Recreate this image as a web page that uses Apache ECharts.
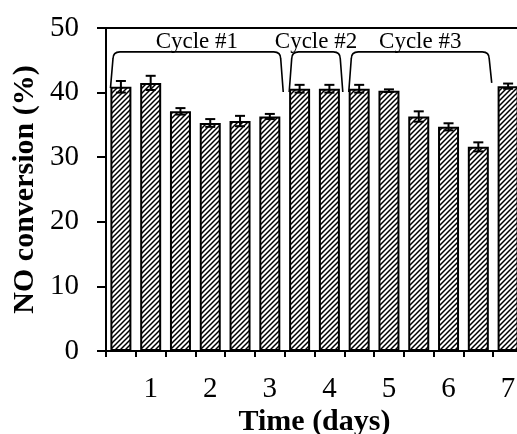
<!DOCTYPE html>
<html>
<head>
<meta charset="utf-8">
<script src="https://cdn.jsdelivr.net/npm/echarts@6/dist/echarts.min.js"></script>
<style>
  html, body { margin: 0; padding: 0; background: #fff; }
  #chart { width: 517px; height: 434px; }
</style>
</head>
<body>
<div id="chart"></div>
<script>
// Half-day sampling points; only whole days get a tick label
const categories = ['0.5', '1', '1.5', '2', '2.5', '3', '3.5', '4', '4.5', '5', '5.5', '6', '6.5', '7'];
// NO conversion (%) and its standard deviation
const conversion = [40.9, 41.5, 37.1, 35.3, 35.6, 36.3, 40.6, 40.6, 40.6, 40.3, 36.3, 34.7, 31.6, 41.0];
const conversionErr = [0.9, 1.1, 0.5, 0.6, 0.8, 0.4, 0.6, 0.6, 0.6, 0.2, 0.8, 0.55, 0.7, 0.4];
// Reaction cycles: first and last sample of each
const cycleNames = ['Cycle #1', 'Cycle #2', 'Cycle #3'];
const cycleFirstBar = [0, 6, 8];
const cycleLastBar = [5, 7, 12];
// Where each bracket leg stops (left, right), in % units
const cycleLegEnds = [[40.7, 40.1], [40.1, 40.1], [40.1, 41.5]];
const bracketLevel = 46.3;
const cycleLabelLevel = 47.9;

const FONT = 'Liberation Serif';

// Diagonal hatch fill for the bars
function hatchPattern() {
  const s = 5;
  const c = document.createElement('canvas');
  c.width = s; c.height = s;
  const g = c.getContext('2d');
  g.fillStyle = '#fff';
  g.fillRect(0, 0, s, s);
  g.strokeStyle = '#000';
  g.lineWidth = 1.5;
  g.beginPath();
  g.moveTo(-1, s + 1); g.lineTo(s + 1, -1);
  g.moveTo(-1, 1); g.lineTo(1, -1);
  g.moveTo(s - 1, s + 1); g.lineTo(s + 1, s - 1);
  g.stroke();
  return c;
}

const chart = echarts.init(document.getElementById('chart'), null, { renderer: 'canvas' });

const axisLineStyle = { color: '#000', width: 2 };

chart.setOption({
  animation: false,
  backgroundColor: '#fff',
  grid: { left: 106, right: -6, top: 28, bottom: 83, containLabel: false, outerBoundsMode: 'none' },
  xAxis: [
    {
      type: 'category',
      data: categories,
      position: 'bottom',
      boundaryGap: true,
      axisLine: { show: true, lineStyle: axisLineStyle },
      axisTick: { show: true, interval: 0, length: 6, inside: false, lineStyle: axisLineStyle },
      axisLabel: {
        interval: (i) => i % 2 === 1,
        margin: 24,
        fontFamily: FONT,
        fontSize: 29,
        color: '#000'
      },
      name: 'Time (days)',
      nameLocation: 'middle',
      nameGap: 56,
      nameMoveOverlap: false,
      nameTextStyle: { fontFamily: FONT, fontWeight: 'bold', fontSize: 30, color: '#000' }
    },
    {
      type: 'category',
      data: categories,
      position: 'top',
      axisLine: { show: true, lineStyle: axisLineStyle },
      axisTick: { show: false },
      axisLabel: { show: false }
    }
  ],
  yAxis: {
    type: 'value',
    min: 0,
    max: 50,
    interval: 10,
    axisLine: { show: true, lineStyle: axisLineStyle },
    axisTick: { show: true, length: 9, inside: false, lineStyle: axisLineStyle },
    splitLine: { show: false },
    axisLabel: { margin: 27, fontFamily: FONT, fontSize: 29, color: '#000' },
    name: 'NO conversion (%)',
    nameLocation: 'middle',
    nameGap: 66,
    nameMoveOverlap: false,
    nameTextStyle: { fontFamily: FONT, fontWeight: 'bold', fontSize: 30, color: '#000' }
  },
  series: [
    {
      type: 'bar',
      data: conversion,
      barWidth: 21,
      itemStyle: {
        color: { image: hatchPattern(), repeat: 'repeat' },
        borderColor: '#000',
        borderWidth: 2
      },
      z: 2
    },
    {
      // error bars
      type: 'custom',
      data: conversion.map((v, i) => [i, v]),
      z: 3,
      renderItem: (params, api) => {
        const i = params.dataIndex;
        const v = api.value(1);
        const e = conversionErr[i];
        const hi = api.coord([i, v + e]);
        const lo = api.coord([i, v - e]);
        const cap = 5;
        const st = { stroke: '#000', lineWidth: 2 };
        return {
          type: 'group',
          children: [
            { type: 'line', shape: { x1: hi[0], y1: hi[1], x2: lo[0], y2: lo[1] }, style: st },
            { type: 'line', shape: { x1: hi[0] - cap, y1: hi[1], x2: hi[0] + cap, y2: hi[1] }, style: st },
            { type: 'line', shape: { x1: lo[0] - cap, y1: lo[1], x2: lo[0] + cap, y2: lo[1] }, style: st }
          ]
        };
      }
    },
    {
      // cycle brackets with their labels
      type: 'custom',
      data: cycleNames.map((n, i) => [i, bracketLevel]),
      z: 4,
      silent: true,
      renderItem: (params, api) => {
        const i = params.dataIndex;
        const bw = api.size([1, 0])[0];
        const x0 = api.coord([0, 0])[0];
        const xAt = (c) => x0 + c * bw;
        const xl = xAt(cycleFirstBar[i] - 0.35);
        const xr = xAt(cycleLastBar[i] + 0.45);
        const yTop = api.coord([0, bracketLevel])[1];
        const yl = api.coord([0, cycleLegEnds[i][0]])[1];
        const yr = api.coord([0, cycleLegEnds[i][1]])[1];
        const r = 7;
        const lean = 2.5;
        const d = [
          'M', xl, yl,
          'L', xl + lean, yTop + r,
          'Q', xl + lean, yTop, xl + lean + r, yTop,
          'L', xr - lean - r, yTop,
          'Q', xr - lean, yTop, xr - lean, yTop + r,
          'L', xr, yr
        ].join(' ');
        const yText = api.coord([0, cycleLabelLevel])[1];
        return {
          type: 'group',
          children: [
            { type: 'path', shape: { pathData: d }, style: { stroke: '#000', lineWidth: 1.6, fill: null } },
            {
              type: 'text',
              style: {
                text: cycleNames[i],
                x: (xl + xr) / 2,
                y: yText,
                align: 'center',
                verticalAlign: 'middle',
                font: '23px "' + FONT + '"',
                fill: '#000'
              }
            }
          ]
        };
      }
    }
  ]
});
</script>
</body>
</html>
